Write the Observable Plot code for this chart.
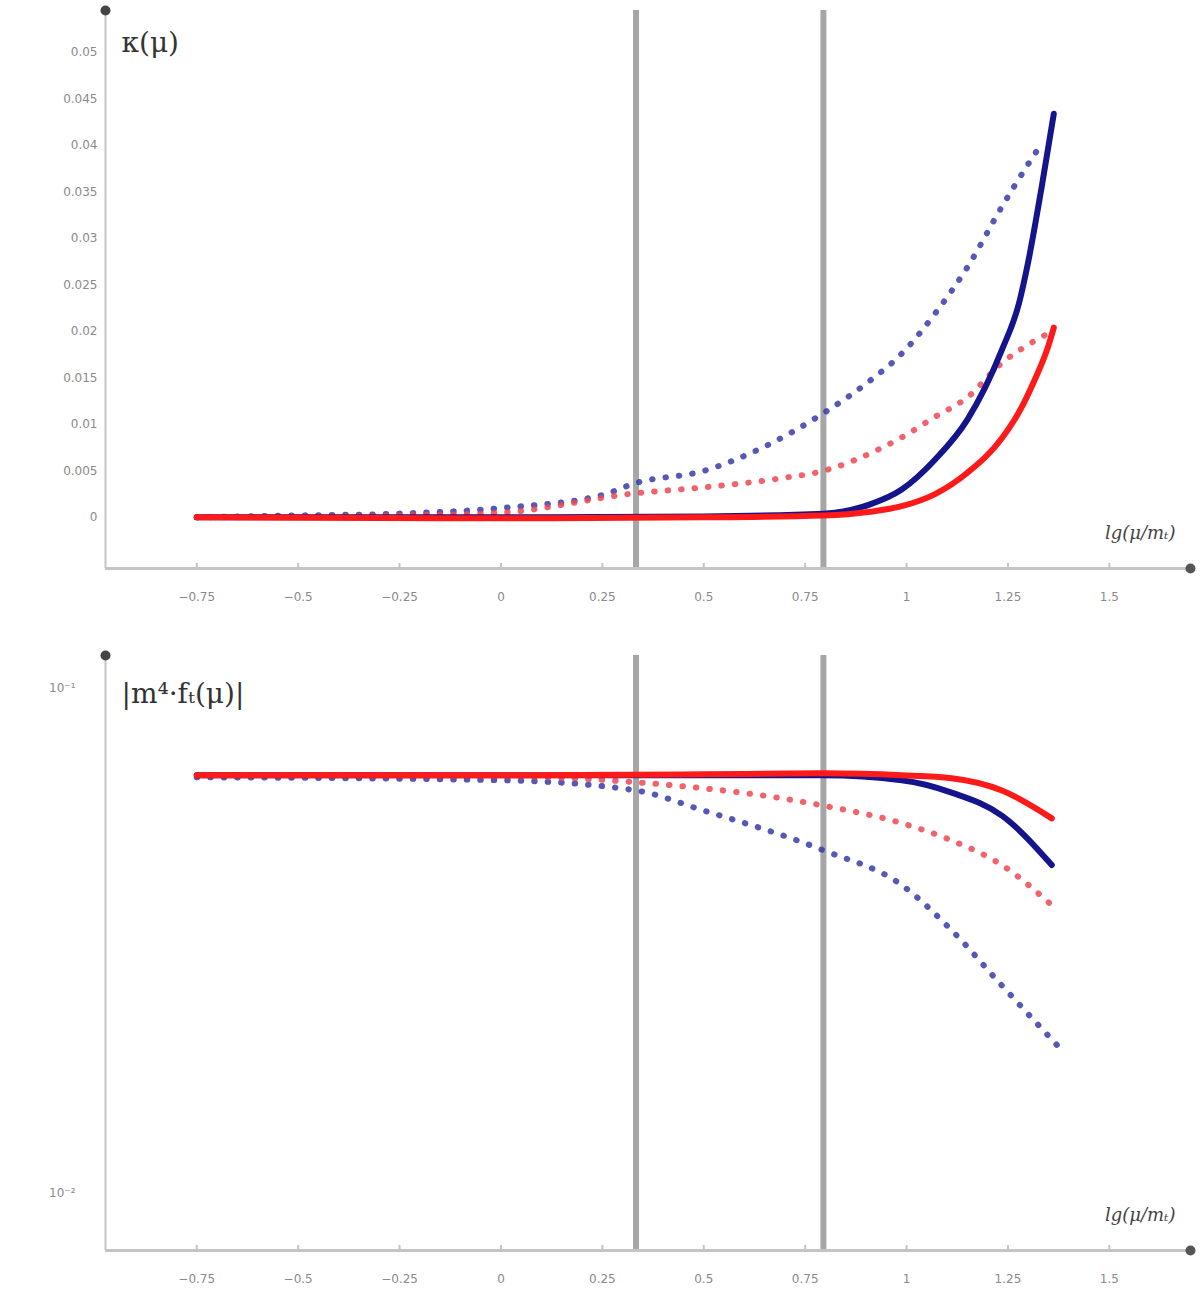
<!DOCTYPE html>
<html>
<head>
<meta charset="utf-8">
<script src="https://cdn.jsdelivr.net/npm/d3@7"></script>
<script src="https://cdn.jsdelivr.net/npm/@observablehq/plot@0.6"></script>
<style>
  html, body { margin: 0; padding: 0; background: #fff; }
  #chart svg { display: block; }
</style>
</head>
<body>
<div id="chart"></div>
<script>
// ---------- data ----------
const xTicks = [-0.75, -0.5, -0.25, 0, 0.25, 0.5, 0.75, 1, 1.25, 1.5];
const thresholds = [0.333, 0.795];

// top panel: κ(μ)
const topYTicks = [0, 0.005, 0.01, 0.015, 0.02, 0.025, 0.03, 0.035, 0.04, 0.045, 0.05];
const topBlueDashX = [-0.75, -0.5, -0.25, 0, 0.25, 0.333, 0.5, 0.64, 0.795, 0.91, 0.988, 1.07, 1.15, 1.235, 1.30, 1.33];
const topBlueDashY = [0, 0.0002, 0.0004, 0.001, 0.0024, 0.0037, 0.005, 0.0074, 0.0112, 0.0147, 0.0176, 0.0219, 0.0269, 0.0334, 0.038, 0.040];
const topBlueSolidX = [-0.75, 0, 0.5, 0.795, 0.91, 0.988, 1.07, 1.15, 1.235, 1.277, 1.30, 1.333, 1.363];
const topBlueSolidY = [0, 0, 0.0001, 0.0004, 0.0014, 0.0030, 0.0062, 0.0105, 0.0180, 0.0230, 0.0275, 0.0355, 0.0434];
const topRedDashX = [-0.75, -0.25, 0, 0.333, 0.494, 0.69, 0.795, 0.94, 0.988, 1.07, 1.15, 1.235, 1.29, 1.35];
const topRedDashY = [0, 0.0002, 0.0005, 0.0026, 0.0032, 0.0042, 0.005, 0.0075, 0.0086, 0.0108, 0.0129, 0.0166, 0.0183, 0.0198];
const topRedSolidX = [-0.75, 0, 0.5, 0.795, 0.91, 0.988, 1.07, 1.15, 1.235, 1.277, 1.316, 1.35, 1.363];
const topRedSolidY = [0, -0.0001, 0, 0.0002, 0.0006, 0.0012, 0.0025, 0.0048, 0.0085, 0.0113, 0.0148, 0.0185, 0.0204];

// bottom panel: |m⁴·f(μ)| (log scale)
const bottomYTicks = [0.1, 0.01];
const bottomYTickLabels = ["10⁻¹", "10⁻²"];
const botRedSolidX = [-0.75, 0, 0.5, 0.795, 0.988, 1.111, 1.235, 1.358];
const botRedSolidY = [0.0673, 0.0673, 0.0676, 0.0679, 0.0673, 0.0664, 0.0628, 0.0553];
const botBlueSolidX = [-0.75, 0, 0.5, 0.795, 0.988, 1.111, 1.235, 1.358];
const botBlueSolidY = [0.0673, 0.0673, 0.0673, 0.0673, 0.0658, 0.0622, 0.0560, 0.0447];
const botRedDashX = [-0.75, 0, 0.333, 0.795, 0.988, 1.111, 1.235, 1.358];
const botRedDashY = [0.0673, 0.0670, 0.0652, 0.0586, 0.0541, 0.0500, 0.0447, 0.0372];
const botBlueDashX = [-0.75, 0, 0.333, 0.494, 0.795, 0.988, 1.111, 1.235, 1.383];
const botBlueDashY = [0.0667, 0.0658, 0.0628, 0.0575, 0.0478, 0.0408, 0.0332, 0.0258, 0.0192];

const xDomain = [-0.975, 1.70];
const topYDomain = [-0.0055, 0.0545];
const botYDomain = [0.00771, 0.1162];

const topLabel = "κ(μ)";
const botLabel = "|m⁴·fₜ(μ)|";
const xLabel = "lg(μ/mₜ)";

// ---------- helpers ----------
const zip = (xs, ys) => xs.map((x, i) => ({x, y: ys[i]}));
const BLUE = "#14148c", BLUE_D = "#3a3aa8", RED = "#ff1a1a", RED_D = "#f04652";
const fmtX = d => (d < 0 ? "\u2212" : "") + Math.abs(d);

function curves(bd, rd, bs, rs) {
  return [
    Plot.line(bd, {x: "x", y: "y", stroke: BLUE_D, strokeWidth: 6, strokeDasharray: "0.5 13", strokeLinecap: "round", strokeOpacity: 0.85, curve: "monotone-x"}),
    Plot.line(rd, {x: "x", y: "y", stroke: RED_D, strokeWidth: 6, strokeDasharray: "0.5 13", strokeLinecap: "round", strokeOpacity: 0.85, curve: "monotone-x"}),
    Plot.line(bs, {x: "x", y: "y", stroke: BLUE, strokeWidth: 6, curve: "monotone-x"}),
    Plot.line(rs, {x: "x", y: "y", stroke: RED, strokeWidth: 6, curve: "monotone-x"})
  ];
}

function frameMarks(yDom) {
  return [
    Plot.ruleX(thresholds, {stroke: "#9c9c9c", strokeWidth: 6, strokeOpacity: 0.9}),
    Plot.ruleY([yDom[0]], {stroke: "#c4c4c4", strokeWidth: 3}),
    Plot.ruleX([xDomain[0]], {stroke: "#c4c4c4", strokeWidth: 2}),
    Plot.ruleX(xTicks, {x: d => d, y1: yDom[0], y2: yDom[0], insetTop: -5, stroke: "#c4c4c4", strokeWidth: 2}),
    Plot.dot([{x: xDomain[0], y: yDom[1]}], {x: "x", y: "y", r: 5, fill: "#444"}),
    Plot.dot([{x: xDomain[1], y: yDom[0]}], {x: "x", y: "y", r: 5, fill: "#555"})
  ];
}

function labelMarks(ylabel, dyLabel) {
  return [
    Plot.text([xLabel], {frameAnchor: "bottom-right", dx: -15, dy: -30, textAnchor: "end", fontSize: 18, fontStyle: "italic", fill: "#444", fontFamily: "DejaVu Serif"}),
    Plot.text([ylabel], {frameAnchor: "top-left", dx: 16, dy: dyLabel, textAnchor: "start", lineAnchor: "top", fontSize: 28, fill: "#333", fontFamily: "DejaVu Serif"})
  ];
}

// ---------- top panel ----------
const topChart = Plot.plot({
  width: 1200, height: 620,
  marginLeft: 105, marginRight: 10, marginTop: 10, marginBottom: 52,
  style: {fontFamily: "DejaVu Sans", background: "#fff"},
  x: {domain: xDomain},
  y: {domain: topYDomain},
  marks: [
    Plot.axisX({ticks: xTicks, tickFormat: fmtX, tickSize: 0, tickPadding: 24, fontSize: 12, color: "#8a8a8a", label: null}),
    Plot.axisY({ticks: topYTicks, tickFormat: d => String(d), tickSize: 0, tickPadding: 8, fontSize: 12, color: "#8a8a8a", label: null}),
    ...frameMarks(topYDomain),
    ...curves(zip(topBlueDashX, topBlueDashY), zip(topRedDashX, topRedDashY), zip(topBlueSolidX, topBlueSolidY), zip(topRedSolidX, topRedSolidY)),
    ...labelMarks(topLabel, 22)
  ]
});

// ---------- bottom panel ----------
const bottomChart = Plot.plot({
  width: 1200, height: 676,
  marginLeft: 105, marginRight: 10, marginTop: 35, marginBottom: 46,
  style: {fontFamily: "DejaVu Sans", background: "#fff"},
  x: {domain: xDomain},
  y: {type: "log", domain: botYDomain, axis: null},
  marks: [
    Plot.axisX({ticks: xTicks, tickFormat: fmtX, tickSize: 0, tickPadding: 24, fontSize: 12, color: "#8a8a8a", label: null}),
    Plot.text(bottomYTicks, {x: () => xDomain[0], y: d => d, text: (d, i) => bottomYTickLabels[i], dx: -30, textAnchor: "end", fontSize: 12, fill: "#8a8a8a"}),
    ...frameMarks(botYDomain),
    ...curves(zip(botBlueDashX, botBlueDashY), zip(botRedDashX, botRedDashY), zip(botBlueSolidX, botBlueSolidY), zip(botRedSolidX, botRedSolidY)),
    ...labelMarks(botLabel, 28)
  ]
});

const el = document.getElementById("chart");
el.appendChild(topChart);
el.appendChild(bottomChart);
</script>
</body>
</html>
